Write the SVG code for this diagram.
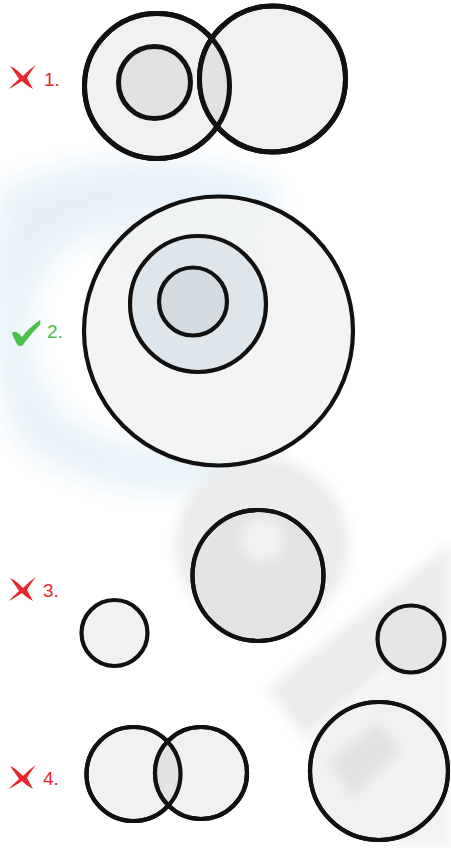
<svg xmlns="http://www.w3.org/2000/svg" width="451" height="848" viewBox="0 0 451 848">
<style>
.c{stroke:#111;fill:#f1f1f1}
.t5{stroke-width:5}
.t4{stroke-width:4.2}
.lbl{font-family:"Liberation Sans",Arial,sans-serif;font-size:19px}
.red{fill:#e8262b}
.grn{fill:#4cc04c}
</style>
<defs>
<clipPath id="o1"><circle cx="157" cy="86" r="72.5"/></clipPath>
<clipPath id="o4"><circle cx="133.5" cy="774" r="47"/></clipPath>
<filter id="blur"><feGaussianBlur stdDeviation="6"/></filter>
<filter id="blur2"><feGaussianBlur stdDeviation="14"/></filter>
<path id="xm" d="M10,0 C15,2 19,6 23,10 C27,6 31,2 36,-1 C32,4 29,8 27,12 C29,16 31,19 33,23 C29,21 25,18 22,15 C18,18 14,20 9,23 C12,19 16,16 19,13 C16,8 13,4 10,0 Z"/>
</defs>
<rect width="451" height="848" fill="#ffffff"/>
<g id="watermark">
<path d="M0,190 C80,150 220,150 280,190 L270,240 C200,205 90,215 50,265 C15,310 25,380 70,420 C120,455 210,460 270,440 L280,480 C190,505 70,490 20,440 C-10,400 -10,250 0,190 Z" fill="#e3f0f7" filter="url(#blur2)" opacity="0.9"/>
<path d="M110,235 C170,215 240,220 275,250 L270,310 C230,275 170,268 110,285 Z" fill="#dbe8ef" filter="url(#blur2)" opacity="0.7"/>
<circle cx="262" cy="545" r="87" fill="#ececec" filter="url(#blur)"/>
<polygon points="267,688 451,543 451,620 305,738" fill="#ececec" filter="url(#blur)"/>
<polygon points="305,738 451,620 451,848 400,848" fill="#f3f3f3" filter="url(#blur)"/>
</g>
<g id="option1">
<use href="#xm" class="red" transform="translate(0,66)"/>
<text class="lbl red" x="44" y="86">1.</text>
<circle class="c t5" cx="157" cy="86" r="72.5"/>
<circle class="c t5" cx="272.5" cy="79" r="73"/>
<circle cx="272.5" cy="79" r="73" fill="#e2e2e2" clip-path="url(#o1)"/>
<circle cx="157" cy="86" r="72.5" fill="none" stroke="#111" stroke-width="5"/>
<circle cx="272.5" cy="79" r="73" fill="none" stroke="#111" stroke-width="5"/>
<circle class="t5" cx="154.5" cy="82.5" r="36" fill="#e2e2e2" stroke="#111"/>
</g>
<g id="option2">
<path class="grn" d="M12,333 C15,330 19,333 22,337 C27,330 33,325 40,320 C41,323 40,325 38,327 C32,333 28,338 23,345 C21,347 18,346 17,344 C15,340 13,337 12,333 Z"/>
<text class="lbl grn" x="47" y="338">2.</text>
<circle class="t4" cx="218.5" cy="331" r="134.5" fill="#f1f2f3" stroke="#111" fill-opacity="0.85"/>
<circle class="t4" cx="198" cy="304" r="68" fill="#dfe6eb" stroke="#111"/>
<circle class="t4" cx="193" cy="301.5" r="34" fill="#d3dbe0" stroke="#111"/>
</g>
<g id="option3">
<use href="#xm" class="red" transform="translate(0,578)"/>
<text class="lbl red" x="43" y="597">3.</text>
<circle class="t4" cx="114.5" cy="633" r="33" fill="#f1f1f1" stroke="#111"/>
<circle class="t4" cx="258" cy="575.5" r="65.5" fill="#e3e3e3" stroke="#111"/>
<circle cx="262" cy="540" r="22" fill="#f2f2f2" filter="url(#blur)"/>
<circle cx="258" cy="575.5" r="65.5" fill="none" stroke="#111" stroke-width="4.2"/>
<circle class="t4" cx="411" cy="639" r="33.5" fill="#e6e6e6" stroke="#111"/>
</g>
<g id="option4">
<use href="#xm" class="red" transform="translate(0,766)"/>
<text class="lbl red" x="43" y="785">4.</text>
<circle class="t4" cx="133.5" cy="774" r="47" fill="#f1f1f1" stroke="#111"/>
<circle class="t4" cx="201" cy="773" r="46" fill="#f1f1f1" stroke="#111"/>
<circle cx="201" cy="773" r="46" fill="#e2e2e2" clip-path="url(#o4)"/>
<circle cx="133.5" cy="774" r="47" fill="none" stroke="#111" stroke-width="4.2"/>
<circle cx="201" cy="773" r="46" fill="none" stroke="#111" stroke-width="4.2"/>
<circle class="t4" cx="379" cy="771" r="69" fill="#f1f1f1" stroke="#111"/>
<polygon points="330,762 378,722 400,752 352,797" fill="#e2e2e2" filter="url(#blur)"/>
<circle cx="379" cy="771" r="69" fill="none" stroke="#111" stroke-width="4.2"/>
</g>
</svg>
